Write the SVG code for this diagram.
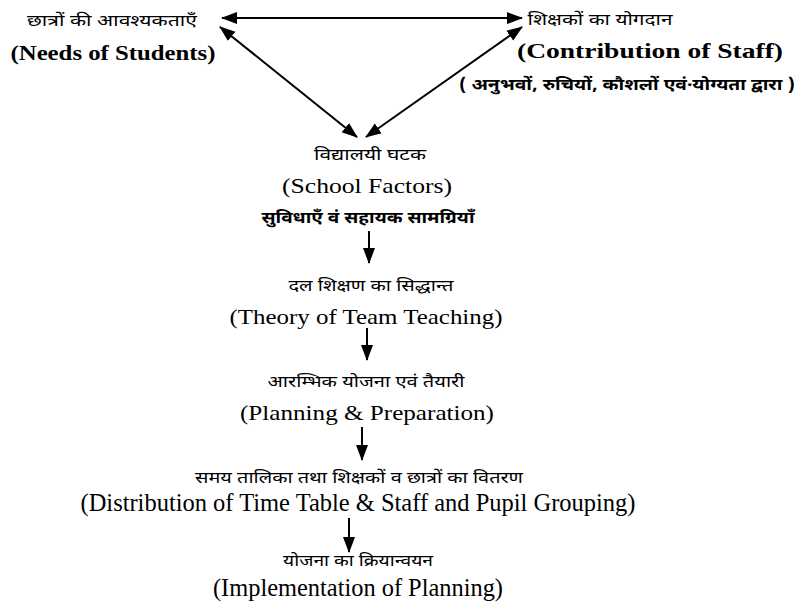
<svg xmlns="http://www.w3.org/2000/svg" width="801" height="603" viewBox="0 0 801 603">
<style>
.hi{font-family:"Noto Sans Devanagari","Lohit Devanagari","Mangal","Noto Sans","Liberation Sans",sans-serif;font-size:16px;fill:#000;text-anchor:middle}
.hb{font-weight:bold}
.en{font-family:"Liberation Serif","Times New Roman",serif;font-size:22px;fill:#000;text-anchor:middle}
.eb{font-weight:bold}
.nr{font-family:"Liberation Serif","Times New Roman",serif;font-size:25px;fill:#000;text-anchor:middle}
.ln{stroke:#000;stroke-width:2;fill:none}
</style>
<defs>
<marker id="ah" markerUnits="userSpaceOnUse" markerWidth="16" markerHeight="14" refX="15" refY="7" orient="auto-start-reverse">
<path d="M0,1 L16,7 L0,13 Z" fill="#000"/>
</marker>
</defs>
<rect width="801" height="603" fill="#fff"/>
<g id="connectors">
<line class="ln" x1="222" y1="18" x2="522" y2="18" marker-start="url(#ah)" marker-end="url(#ah)"/>
<line class="ln" x1="220" y1="27" x2="357" y2="137" marker-start="url(#ah)" marker-end="url(#ah)"/>
<line class="ln" x1="522" y1="27" x2="366" y2="137" marker-start="url(#ah)" marker-end="url(#ah)"/>
<line class="ln" x1="369" y1="231" x2="369" y2="263" marker-end="url(#ah)"/>
<line class="ln" x1="367" y1="328" x2="367" y2="360" marker-end="url(#ah)"/>
<line class="ln" x1="362" y1="427" x2="362" y2="460" marker-end="url(#ah)"/>
<line class="ln" x1="349" y1="518" x2="349" y2="552" marker-end="url(#ah)"/>
</g>
<g id="students">
<text class="hi" x="112" y="26" textLength="170" lengthAdjust="spacingAndGlyphs">छात्रों की आवश्यकताएँ</text>
<text class="en eb" x="113" y="60" textLength="205" lengthAdjust="spacingAndGlyphs">(Needs of Students)</text>
</g>
<g id="staff">
<text class="hi" x="600" y="25" textLength="145" lengthAdjust="spacingAndGlyphs">शिक्षकों का योगदान</text>
<text class="en eb" x="650" y="58" textLength="266" lengthAdjust="spacingAndGlyphs">(Contribution of Staff)</text>
<text class="hi hb" x="627" y="90" textLength="336" lengthAdjust="spacingAndGlyphs">( अनुभवों, रुचियों, कौशलों एवं·योग्यता द्वारा )</text>
</g>
<g id="school">
<text class="hi" x="370" y="160" textLength="112" lengthAdjust="spacingAndGlyphs">विद्यालयी घटक</text>
<text class="en" x="367" y="193" textLength="170" lengthAdjust="spacingAndGlyphs">(School Factors)</text>
<text class="hi hb" x="368" y="223" textLength="213" lengthAdjust="spacingAndGlyphs">सुविधाएँ वं सहायक सामग्रियाँ</text>
</g>
<g id="theory">
<text class="hi" x="371" y="291" textLength="165" lengthAdjust="spacingAndGlyphs">दल शिक्षण का सिद्धान्त</text>
<text class="en" x="366" y="324" textLength="273" lengthAdjust="spacingAndGlyphs">(Theory of Team Teaching)</text>
</g>
<g id="planning">
<text class="hi" x="366" y="387" textLength="197" lengthAdjust="spacingAndGlyphs">आरम्भिक योजना एवं तैयारी</text>
<text class="en" x="367" y="420" textLength="254" lengthAdjust="spacingAndGlyphs">(Planning &amp; Preparation)</text>
</g>
<g id="distribution">
<text class="hi" x="359" y="483" textLength="328" lengthAdjust="spacingAndGlyphs">समय तालिका तथा शिक्षकों व छात्रों का वितरण</text>
<text class="nr" x="358" y="511" textLength="555" lengthAdjust="spacingAndGlyphs">(Distribution of Time Table &amp; Staff and Pupil Grouping)</text>
</g>
<g id="implementation">
<text class="hi" x="358" y="566" textLength="150" lengthAdjust="spacingAndGlyphs">योजना का क्रियान्वयन</text>
<text class="nr" x="358" y="596" textLength="290" lengthAdjust="spacingAndGlyphs">(Implementation of Planning)</text>
</g>
</svg>
